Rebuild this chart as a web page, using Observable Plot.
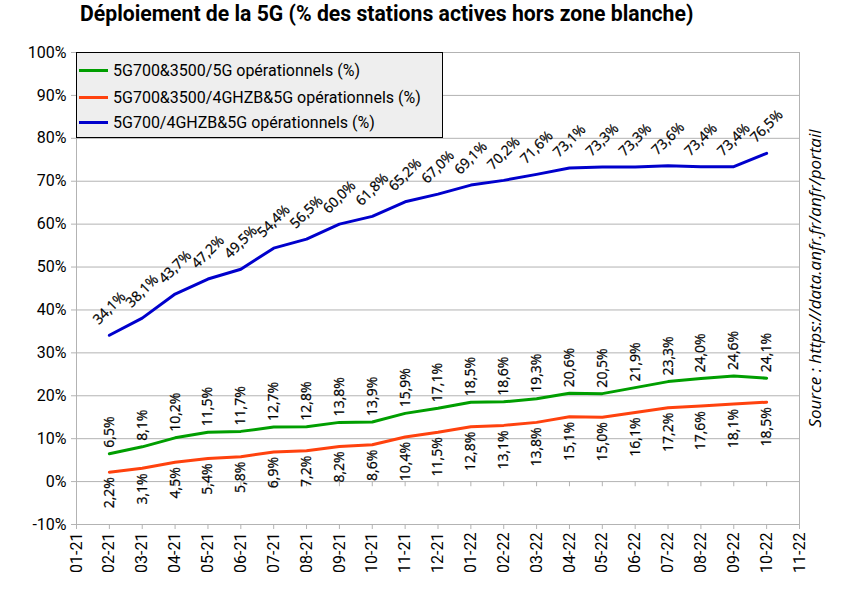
<!DOCTYPE html>
<html>
<head>
<meta charset="utf-8">
<script src="https://cdn.jsdelivr.net/npm/d3@7"></script>
<script src="https://cdn.jsdelivr.net/npm/@observablehq/plot@0.6"></script>
<style>
  html, body { margin: 0; padding: 0; background: white; }
  #wrap { position: relative; width: 841px; height: 595px; overflow: hidden; font-family: Roboto, sans-serif; }
  #title { position: absolute; left: 80px; top: 1px; font-size: 21.2px; font-weight: bold; white-space: nowrap; color: #000; }
  #chart { position: absolute; left: 0; top: 40px; }
  #legend { position: absolute; left: 76px; top: 52px; width: 367px; height: 86px; box-sizing: border-box;
            background: #eeeeee; border: 1px solid #000; font-size: 16px; }
  .item { position: absolute; left: 2px; height: 20px; display: flex; align-items: center; white-space: nowrap; }
  .sw { width: 29px; height: 3px; margin-right: 5px; }
</style>
</head>
<body>
<div id="wrap">
  <div id="title"></div>
  <div id="chart"></div>
  <div id="legend"></div>
</div>
<script>
const titleText = "Déploiement de la 5G (% des stations actives hors zone blanche)";
const sourceText = "Source : https://data.anfr.fr/anfr/portail";
const months = ["01-21","02-21","03-21","04-21","05-21","06-21","07-21","08-21","09-21","10-21","11-21","12-21",
                "01-22","02-22","03-22","04-22","05-22","06-22","07-22","08-22","09-22","10-22","11-22"];
const seriesMonths = ["02-21","03-21","04-21","05-21","06-21","07-21","08-21","09-21","10-21","11-21","12-21",
                "01-22","02-22","03-22","04-22","05-22","06-22","07-22","08-22","09-22","10-22"];
const yTicks = [-10,0,10,20,30,40,50,60,70,80,90,100];
const seriesNames = ["5G700&3500/5G opérationnels (%)", "5G700&3500/4GHZB&5G opérationnels (%)", "5G700/4GHZB&5G opérationnels (%)"];
const seriesColors = ["#009e00", "#ff420e", "#0000cc"];
const green = [6.5,8.1,10.2,11.5,11.7,12.7,12.8,13.8,13.9,15.9,17.1,18.5,18.6,19.3,20.6,20.5,21.9,23.3,24.0,24.6,24.1];
const red   = [2.2,3.1,4.5,5.4,5.8,6.9,7.2,8.2,8.6,10.4,11.5,12.8,13.1,13.8,15.1,15.0,16.1,17.2,17.6,18.1,18.5];
const blue  = [34.1,38.1,43.7,47.2,49.5,54.4,56.5,60.0,61.8,65.2,67.0,69.1,70.2,71.6,73.1,73.3,73.3,73.6,73.4,73.4,76.5];

const toRows = (vals) => vals.map((v, i) => ({month: seriesMonths[i], value: v}));
const gRows = toRows(green), rRows = toRows(red), bRows = toRows(blue);
const fmt = (v) => v.toFixed(1).replace(".", ",") + "%";
const grid = "#b3b3b3";
const labelFont = "'Open Sans', sans-serif";
const labelStyle = {fontSize: 14, fontWeight: 500, fontFamily: labelFont, fill: "#000", stroke: "#000", strokeWidth: 0.25};

document.getElementById("title").textContent = titleText;

const chart = Plot.plot({
  width: 841,
  height: 555,
  marginLeft: 76,
  marginRight: 42,
  marginTop: 12,
  marginBottom: 71,
  style: {fontFamily: "Roboto, sans-serif", fontSize: "16px", color: "#000", background: "white", overflow: "visible"},
  x: {type: "point", domain: months, padding: 0, round: false},
  y: {domain: [-10, 100]},
  marks: [
    Plot.gridY(yTicks, {stroke: grid, strokeOpacity: 1}),
    Plot.frame({stroke: grid}),
    Plot.ruleX(months, {x: d => d, y1: 0, y2: -1.2, stroke: grid}),
    Plot.axisY(yTicks, {tickSize: 5, tickPadding: 5, stroke: grid, fill: "#000", tickFormat: d => d + "%", label: null, fontSize: 16}),
    Plot.axisX(months, {tickSize: 5, tickPadding: 3, stroke: grid, fill: "#000", tickRotate: -90, label: null, fontSize: 16}),
    Plot.line(gRows, {x: "month", y: "value", stroke: seriesColors[0], strokeWidth: 3}),
    Plot.line(rRows, {x: "month", y: "value", stroke: seriesColors[1], strokeWidth: 3}),
    Plot.line(bRows, {x: "month", y: "value", stroke: seriesColors[2], strokeWidth: 3}),
    Plot.text(gRows, {x: "month", y: "value", text: d => fmt(d.value), rotate: -90, textAnchor: "start", dy: -6, ...labelStyle}),
    Plot.text(rRows, {x: "month", y: "value", text: d => fmt(d.value), rotate: -90, textAnchor: "end", dy: 5, ...labelStyle}),
    Plot.text(bRows, {x: "month", y: "value", text: d => fmt(d.value), rotate: -45, textAnchor: "middle", dy: -27, ...labelStyle}),
    Plot.text([sourceText], {text: d => d, frameAnchor: "right", dx: 16, dy: -10, rotate: -90, textAnchor: "middle", fontSize: 17, fontStyle: "italic", fontFamily: labelFont, fill: "#000"})
  ]
});
document.getElementById("chart").appendChild(chart);

const legend = document.getElementById("legend");
const tops = [7, 34, 59];
seriesNames.forEach((name, i) => {
  const it = document.createElement("div");
  it.className = "item";
  it.style.top = tops[i] + "px";
  const sw = document.createElement("div");
  sw.className = "sw";
  sw.style.background = seriesColors[i];
  const tx = document.createElement("span");
  tx.textContent = name;
  it.appendChild(sw); it.appendChild(tx);
  legend.appendChild(it);
});
</script>
</body>
</html>
